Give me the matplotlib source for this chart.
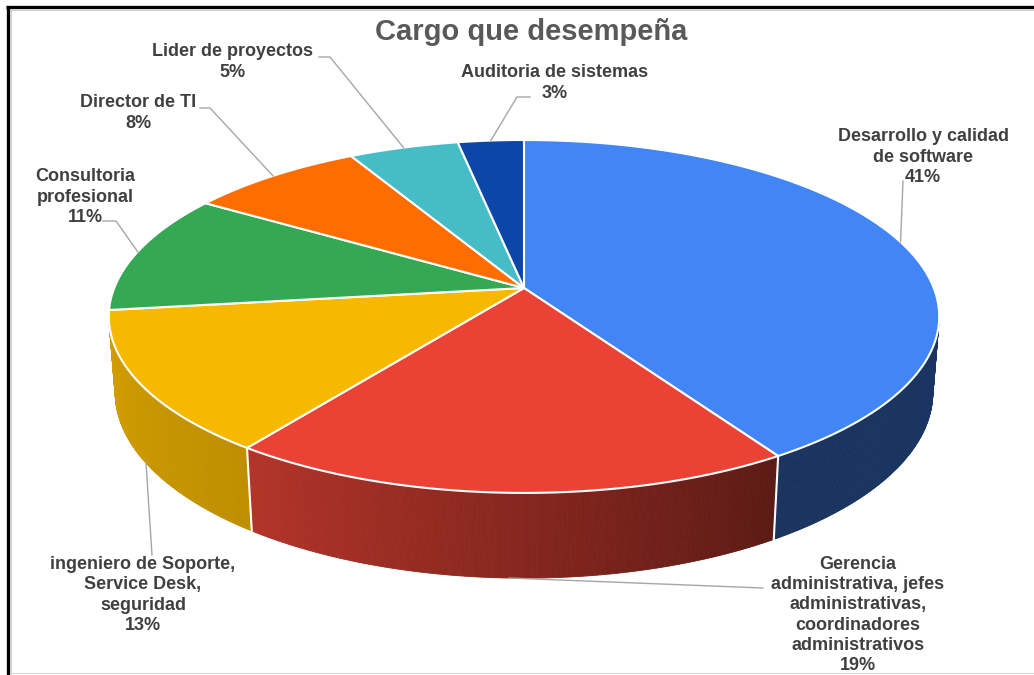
import numpy as np
import matplotlib.pyplot as plt
from matplotlib.collections import PolyCollection
from matplotlib.patches import Polygon
from matplotlib.lines import Line2D
import matplotlib.colors as mcolors

# data
title = "Cargo que desempeña"
categories = [
    "Desarrollo y calidad\nde software",
    "Gerencia\nadministrativa, jefes\nadministrativas,\ncoordinadores\nadministrativos",
    "ingeniero de Soporte,\nService Desk,\nseguridad",
    "Consultoria\nprofesional",
    "Director de TI",
    "Lider de proyectos",
    "Auditoria de sistemas",
]
values = [41, 19, 13, 11, 8, 5, 3]

# style / layout
colors = ["#4285F4", "#EA4335", "#F7B900", "#34A853", "#FF6D01", "#46BDC6", "#0B47A9"]
label_xy = [(923, 157), (858, 615), (143, 595), (85, 197), (138, 113), (233, 62), (555, 83)]
leader_pts = [
    [(903, 181)],
    [(763, 588)],
    [(152, 555)],
    [(103, 221), (116, 221)],
    [(200, 108), (210, 108)],
    [(319, 57), (330, 57)],
    [(530, 97), (517, 97)],
]

# simple perspective camera for the 3d pie
cx, cy = 524, 288
D, F = 5.63, 2307
S, C = np.sin(np.radians(24.8)), np.cos(np.radians(24.8))
H = 0.204


def proj(phi, z=0.0):
    x, y = np.cos(phi), np.sin(phi)
    depth = D + y * C - z * S
    return cx + x * F / depth, cy - (y * S + z * C) * F / depth


def shade(phi):
    deg = np.degrees(phi)
    return np.interp(deg, [-180, -126, -57.6, 0], [0.88, 0.77, 0.39, 0.40])


fig = plt.figure(figsize=(10.34, 6.75), dpi=100)
ax = fig.add_axes([0, 0, 1, 1])
ax.set_xlim(0, 1034)
ax.set_ylim(675, 0)
ax.axis("off")

frac = np.cumsum([0] + values) / sum(values)
starts = np.pi / 2 - 2 * np.pi * frac[:-1]
ends = np.pi / 2 - 2 * np.pi * frac[1:]

# visible part of the outer wall
lim = np.arcsin(1 / (D * C))
vis_lo, vis_hi = -np.pi + lim, -lim

# sides
for a0, a1, col in zip(starts, ends, colors):
    lo, hi = max(a1, vis_lo), min(a0, vis_hi)
    if hi <= lo:
        continue
    phis = np.linspace(lo, hi, int(np.degrees(hi - lo) * 3) + 2)
    quads, cols = [], []
    base = np.array(mcolors.to_rgb(col))
    for p, q in zip(phis[:-1], phis[1:]):
        quads.append([proj(p), proj(q), proj(q, -H), proj(p, -H)])
        cols.append(np.clip(base * shade((p + q) / 2), 0, 1))
    ax.add_collection(PolyCollection(quads, facecolors=cols, edgecolors=cols,
                                     linewidths=0.6, zorder=1))

# white seams between slices on the wall
for a in starts:
    a = (a + np.pi) % (2 * np.pi) - np.pi
    if vis_lo < a < vis_hi:
        (x0, y0), (x1, y1) = proj(a), proj(a, -H)
        ax.plot([x0, x1], [y0, y1], color="white", lw=1.5, zorder=2)

# top faces
for a0, a1, col in zip(starts, ends, colors):
    phis = np.linspace(a0, a1, int(abs(np.degrees(a1 - a0))) + 2)
    pts = [(cx, cy)] + [proj(p) for p in phis]
    ax.add_patch(Polygon(pts, closed=True, facecolor=col, edgecolor="white",
                         lw=1.5, joinstyle="round", zorder=3))

# labels and leader lines
for i, (name, v) in enumerate(zip(categories, values)):
    mid = (starts[i] + ends[i]) / 2
    anchor = proj(mid, -H if np.sin(mid) < 0 else 0.0)
    path = leader_pts[i] + [anchor]
    xs, ys = zip(*path)
    ax.plot(xs, ys, color="#A6A6A6", lw=1, zorder=4)
    ax.text(label_xy[i][0], label_xy[i][1], f"{name}\n{v}%", ha="center", va="center",
            fontsize=13, fontweight="bold", color="#404040", family="Liberation Sans",
            linespacing=1.24, zorder=5)

ax.text(531, 32, title, ha="center", va="center", fontsize=21, fontweight="bold",
        color="#595959", family="Liberation Sans")

# frame
ax.add_line(Line2D([6, 1034], [6.5, 6.5], color="black", lw=2.4, solid_capstyle="butt"))
ax.add_line(Line2D([7.5, 7.5], [5.5, 675], color="black", lw=2.4, solid_capstyle="butt"))
ax.add_line(Line2D([10, 1034], [9.5, 9.5], color="#D0D0D0", lw=0.8))
ax.add_line(Line2D([10.5, 10.5], [9.5, 675], color="#D0D0D0", lw=0.8))
ax.add_line(Line2D([10, 1034], [672.5, 672.5], color="#D9D9D9", lw=0.8))

fig.savefig("out.png", dpi=100)
